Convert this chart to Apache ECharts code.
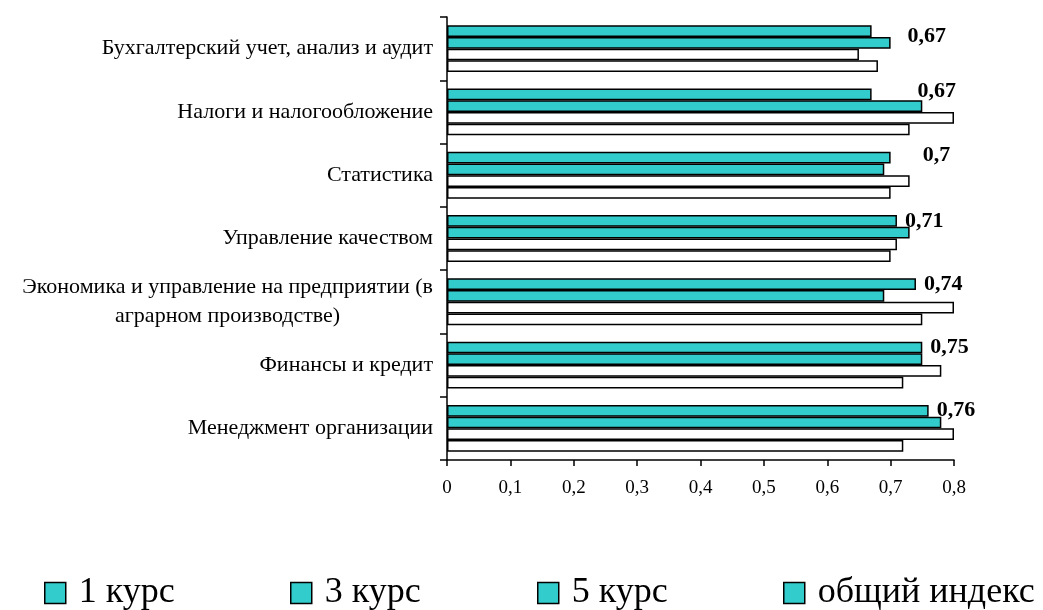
<!DOCTYPE html>
<html>
<head>
<meta charset="utf-8">
<script src="https://cdn.jsdelivr.net/npm/echarts@6/dist/echarts.min.js"></script>
<style>
  html, body { margin: 0; padding: 0; background: #fff; }
  #bar { width: 1043px; height: 610px; }
</style>
</head>
<body>
<div id="bar"></div>
<script>
// категории снизу вверх (как в Excel)
var categories = [
    'Менеджмент организации',
    'Финансы и кредит',
    'Экономика и управление на предприятии (в\nаграрном производстве)',
    'Управление качеством',
    'Статистика',
    'Налоги и налогообложение',
    'Бухгалтерский учет, анализ и аудит'
];
var course1 = [0.72, 0.72, 0.75, 0.70, 0.70, 0.73, 0.68];
var course3 = [0.80, 0.78, 0.80, 0.71, 0.73, 0.80, 0.65];
var course5 = [0.78, 0.75, 0.69, 0.73, 0.69, 0.75, 0.70];
var indexAll = [0.76, 0.75, 0.74, 0.71, 0.70, 0.67, 0.67];
var xTicks = [0, 0.1, 0.2, 0.3, 0.4, 0.5, 0.6, 0.7, 0.8];
var legendNames = ['1 курс', '3 курс', '5 курс', 'общий индекс'];

// сдвиг подписей (в исходнике часть подписей передвинута вручную)
var labelDx = [0, 0, 0, 0, 24, 38, 28];
var labelDy = [0, 0, 0, 0, -2, -3, 5];

var FONT = "'Liberation Serif', 'Times New Roman', serif";
var TEAL = '#33CCCC';

var myChart = echarts.init(document.getElementById('bar'));

function fmt(v) {
    return String(v).replace('.', ',');
}

var legendLeft = [39, 285, 532, 778];
var legends = legendNames.map(function (name, i) {
    return {
        data: [name],
        left: legendLeft[i],
        top: 570,
        icon: 'rect',
        itemWidth: 21,
        itemHeight: 21,
        selectedMode: false,
        itemStyle: { color: TEAL, borderColor: '#000', borderWidth: 1.5 },
        textStyle: { fontFamily: FONT, fontSize: 36, color: '#000', padding: [0, 0, 0, 8] }
    };
});

var barStyle = function (color) {
    return { color: color, borderColor: '#000', borderWidth: 1.5 };
};

myChart.setOption({
    animation: false,
    legend: legends,
    grid: { left: 447, right: 89, top: 17, bottom: 150 },
    xAxis: {
        type: 'value',
        min: xTicks[0],
        max: xTicks[xTicks.length - 1],
        interval: 0.1,
        axisLine: { show: true, lineStyle: { color: '#000', width: 1.5 } },
        axisTick: { show: true, length: 6, lineStyle: { color: '#000', width: 1.5 } },
        splitLine: { show: false },
        axisLabel: {
            margin: 19,
            fontFamily: FONT,
            fontSize: 19,
            color: '#000',
            formatter: function (v) { return fmt(+v.toFixed(1)); }
        }
    },
    yAxis: {
        type: 'category',
        data: categories,
        axisLine: { show: true, lineStyle: { color: '#000', width: 1.5 } },
        axisTick: { show: true, length: 7, lineStyle: { color: '#000', width: 1.5 } },
        axisLabel: {
            margin: 14,
            fontFamily: FONT,
            fontSize: 22,
            color: '#000',
            formatter: function (v) {
                if (v.indexOf('\n') < 0) return v;
                return v.split('\n').map(function (s) { return '{c|' + s + '}'; }).join('\n');
            },
            rich: {
                c: { align: 'center', fontFamily: FONT, fontSize: 22, lineHeight: 29, color: '#000' }
            }
        }
    },
    series: [{
        name: 'общий индекс',
        type: 'bar',
        barGap: 0,
        barCategoryGap: '26%',
        itemStyle: barStyle(TEAL),
        label: {
            show: true,
            position: 'right',
            distance: 8,
            fontFamily: FONT,
            fontSize: 22,
            fontWeight: 'bold',
            color: '#000',
            formatter: function (p) { return fmt(p.value); }
        },
        data: indexAll.map(function (v, i) {
            return { value: v, label: { offset: [labelDx[i], labelDy[i]] } };
        })
    }, {
        name: '5 курс',
        type: 'bar',
        itemStyle: barStyle(TEAL),
        data: course5
    }, {
        name: '3 курс',
        type: 'bar',
        itemStyle: barStyle('#fff'),
        data: course3
    }, {
        name: '1 курс',
        type: 'bar',
        itemStyle: barStyle('#fff'),
        data: course1
    }]
});
</script>
</body>
</html>
